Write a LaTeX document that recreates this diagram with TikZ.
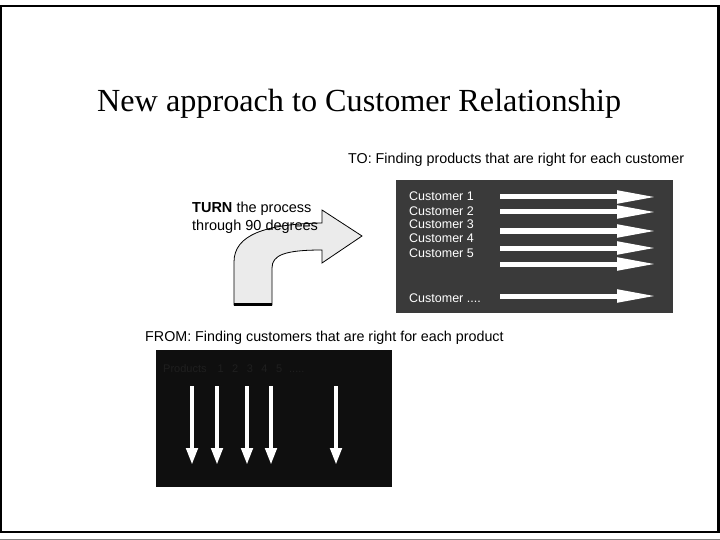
\documentclass[tikz,border=0pt]{standalone}
\usepackage{fontspec}
\setmainfont{Liberation Sans}
\newfontfamily\titlefont{Liberation Serif}
\usetikzlibrary{arrows.meta}
\definecolor{topbox}{HTML}{3A3A3A}
\definecolor{botbox}{HTML}{0F0F0F}
\definecolor{bendfill}{HTML}{EBEBEB}
\begin{document}
\begin{tikzpicture}[x=1pt, y=-1pt,
    txt/.style={anchor=base west, inner sep=0pt},
    custlabel/.style={txt, white, font=\fontsize{12.5}{14}\selectfont},
    custarrow/.style={white, line width=5pt, -{Triangle[length=40pt, width=12pt]}},
    prodarrow/.style={white, line width=4.5pt, -{Triangle[length=17pt, width=11pt]}}]
    \useasboundingbox (0,0) rectangle (720,540);
    \fill[white] (0,0) rectangle (720,540);
    \draw [line width=2.5pt] (1.2,6) rectangle (718.6,532);
    \draw [gray, line width=0.8pt] (0,539.4) -- (720,539.4);

    \node [txt, font=\titlefont\fontsize{32.2}{38}\selectfont] (title) at (97,112)
        {New approach to Customer Relationship};

    % TO box
    \node [txt, font=\fontsize{14.3}{17}\selectfont] (to) at (348,164)
        {TO: Finding products that are right for each customer};
    \fill [topbox] (396,180) rectangle (673,313);
    \foreach \n/\y in {1/201,2/215,3/229,4/243,5/257}
        \node [custlabel] (c\n) at (409,\y) {Customer \n};
    \node [custlabel] (c6) at (409,302) {Customer ....};
    \foreach \i/\y in {1/197,2/212,3/231,4/248,5/264,6/296} {
        \coordinate (a\i) at (500,\y);
        \coordinate (b\i) at (657,\y);
        \draw [custarrow] (a\i) -- (b\i);
    }

    % turn arrow
    \draw [fill=bendfill, line width=0.8pt] (234,305) -- (234,262)
        .. controls (234,235) and (265,224) .. (322,223) -- (322,210)
        -- (362,236) -- (322,263) -- (322,250)
        .. controls (285,250) and (272,255) .. (272,268) -- (272,305) -- cycle;
    \draw [line width=2.5pt] (234,304.5) -- (272,304.5);
    \node [txt, font=\fontsize{14.5}{17}\selectfont] (turn1) at (192,213)
        {\textbf{TURN} the process};
    \node [txt, font=\fontsize{14.5}{17}\selectfont] (turn2) at (192,230)
        {through 90 degrees};

    % FROM box
    \node [txt, font=\fontsize{14.3}{17}\selectfont] (from) at (145,341)
        {FROM: Finding customers that are right for each product};
    \fill [botbox] (156,350) rectangle (392,487);
    \node [txt, font=\fontsize{11}{13}\selectfont, color=black!88] (prod) at (163,372)
        {Products\hspace{11pt}1\hspace{8.5pt}2\hspace{8.5pt}3\hspace{8.5pt}4\hspace{8.5pt}5\hspace{7pt}.....};
    \foreach \i/\x in {1/192,2/217,3/247,4/271,5/336} {
        \coordinate (p\i) at (\x,386);
        \coordinate (q\i) at (\x,465);
        \draw [prodarrow] (p\i) -- (q\i);
    }
\end{tikzpicture}
\end{document}
